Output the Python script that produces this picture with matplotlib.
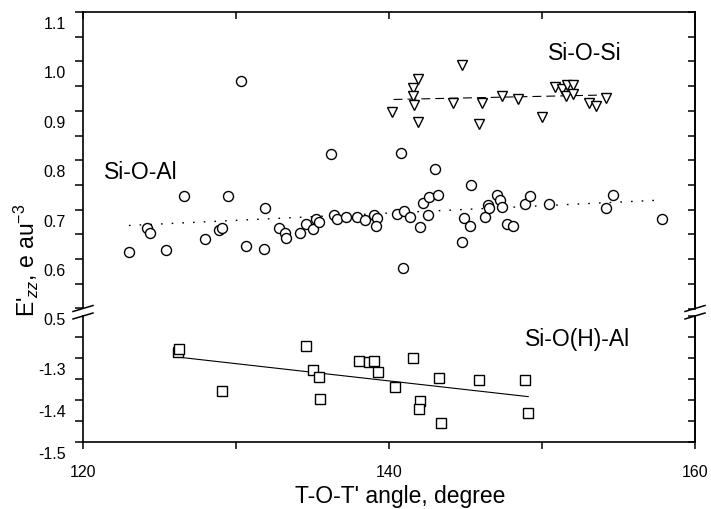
import matplotlib
matplotlib.use("Agg")
import matplotlib.pyplot as plt
from matplotlib.transforms import ScaledTranslation
from matplotlib.lines import Line2D

plt.rcParams['font.family'] = ['Liberation Sans', 'DejaVu Sans']
plt.rcParams['mathtext.fontset'] = 'custom'
plt.rcParams['mathtext.rm'] = 'Liberation Sans'
plt.rcParams['mathtext.it'] = 'Liberation Sans:italic'

# ---- data ----
sioal_x = [123.0, 124.16, 124.4, 125.4, 126.6, 128.0, 128.9, 129.07, 129.5, 130.3,
           130.65, 131.8, 131.9, 132.8, 133.2, 133.3, 134.2, 134.56, 135.0, 135.2,
           135.4, 136.2, 136.4, 136.6, 137.2, 137.9, 138.4, 139.0, 139.2, 139.15,
           140.5, 140.8, 140.9, 141.0, 141.4, 142.0, 142.2, 142.57, 142.6, 143.0,
           143.2, 144.8, 144.9, 145.3, 145.36, 146.3, 146.5, 146.55, 147.04, 147.25,
           147.36, 147.69, 148.1, 148.9, 149.2, 150.46, 154.2, 154.66, 157.84]
sioal_y = [0.614, 0.662, 0.652, 0.618, 0.728, 0.641, 0.658, 0.663, 0.728, 0.961,
           0.626, 0.621, 0.703, 0.663, 0.652, 0.642, 0.652, 0.671, 0.660, 0.682,
           0.675, 0.812, 0.690, 0.682, 0.685, 0.686, 0.680, 0.690, 0.684, 0.667,
           0.692, 0.815, 0.581, 0.697, 0.685, 0.664, 0.714, 0.690, 0.725, 0.783,
           0.729, 0.635, 0.684, 0.666, 0.749, 0.686, 0.710, 0.703, 0.729, 0.719,
           0.705, 0.670, 0.667, 0.712, 0.727, 0.711, 0.703, 0.730, 0.682]

siosi_x = [140.2, 141.9, 141.6, 141.6, 141.65, 141.9, 144.2, 144.75, 145.9, 146.1,
           147.4, 148.45, 150.0, 150.85, 151.3, 151.65, 152.05, 151.6, 152.0, 153.1,
           153.5, 154.2]
siosi_y = [0.897, 0.965, 0.946, 0.930, 0.912, 0.877, 0.916, 0.993, 0.874, 0.916,
           0.930, 0.923, 0.887, 0.948, 0.944, 0.953, 0.953, 0.930, 0.934, 0.916,
           0.910, 0.926]

siohal_x = [126.2, 126.3, 129.1, 134.6, 135.0, 135.4, 135.5, 138.06, 138.7, 139.0,
            139.3, 140.4, 141.55, 142.0, 141.96, 143.3, 143.4, 145.9, 148.9, 149.1]
siohal_y = [-1.286, -1.279, -1.378, -1.272, -1.328, -1.346, -1.398, -1.306, -1.309, -1.306,
            -1.333, -1.368, -1.300, -1.402, -1.421, -1.348, -1.455, -1.352, -1.352, -1.431]

fit_sioal_x = [123.0, 157.5]
fit_sioal_y = [0.668, 0.719]
fit_siosi_x = [140.3, 154.0]
fit_siosi_y = [0.923, 0.932]
fit_siohal_x = [126.0, 149.1]
fit_siohal_y = [-1.297, -1.392]

x_major = [120, 140, 160]
x_minor = [130, 150]
y_top_major = [0.5, 0.6, 0.7, 0.8, 0.9, 1.0, 1.1]
y_top_minor = [0.55, 0.65, 0.75, 0.85, 0.95, 1.05]
y_bot_major = [-1.5, -1.4, -1.3]
y_bot_minor = [-1.45, -1.35, -1.25]

# ---- figure ----
W, H = 711, 510
fig = plt.figure(figsize=(W / 100, H / 100), dpi=100)


def rect(l, t, r, b):
    return [l / W, 1 - b / H, (r - l) / W, (b - t) / H]


L, R = 83, 695
ax_t = fig.add_axes(rect(L, 13, R, 309.5))
ax_b = fig.add_axes(rect(L, 317, R, 443))

ms_kw = dict(mfc='white', mec='black', mew=1.0, ls='none')
ax_t.plot(sioal_x, sioal_y, marker='o', ms=7.2, **ms_kw, zorder=3)
ax_t.plot(siosi_x, siosi_y, marker='v', ms=7.5, **ms_kw, zorder=3)
ax_t.plot(fit_sioal_x, fit_sioal_y, color='black', lw=1.0, ls=(0, (1.2, 6.5)), zorder=2)
ax_t.plot(fit_siosi_x, fit_siosi_y, color='black', lw=0.8, ls=(0, (8, 4.5)), zorder=2)

ax_b.plot(siohal_x, siohal_y, marker='s', ms=6.5, **ms_kw, zorder=3)
ax_b.plot(fit_siohal_x, fit_siohal_y, color='black', lw=0.8, zorder=2)

ax_t.set_xlim(120, 160)
ax_b.set_xlim(120, 160)
ax_t.set_ylim(0.5, 1.1)
ax_b.set_ylim(-1.5, -1.2)

for ax in (ax_t, ax_b):
    for s in ax.spines.values():
        s.set_linewidth(1.2)
ax_t.spines['bottom'].set_visible(False)
ax_b.spines['top'].set_visible(False)

# ticks
ax_t.set_xticks(x_major)
ax_t.set_xticks(x_minor, minor=True)
ax_t.tick_params(axis='x', which='both', bottom=False, labelbottom=False,
                 top=True, direction='in', length=5, width=1.1)
ax_t.set_yticks(y_top_major)
ax_t.set_yticks(y_top_minor, minor=True)
ax_t.tick_params(axis='y', which='both', left=True, right=False, direction='out',
                 length=6, width=1.1, labelsize=11.5, pad=6.5)
ax_t.set_yticklabels([f"{v:.1f}" for v in y_top_major])

ax_b.set_xticks(x_major)
ax_b.set_xticks(x_minor, minor=True)
ax_b.tick_params(axis='x', which='both', bottom=True, top=False, direction='out',
                 length=5, width=1.1, labelsize=11.5, pad=11)
ax_b.set_yticks(y_bot_major)
ax_b.set_yticks(y_bot_minor, minor=True)
ax_b.tick_params(axis='y', which='both', left=True, right=False, direction='out',
                 length=6, width=1.1, labelsize=11.5, pad=6.5)
ax_b.set_yticklabels([f"{v:.1f}" for v in y_bot_major])

# right-side inward ticks
for ax, lo, hi in ((ax_t, 0.5, 1.1), (ax_b, -1.5, -1.2)):
    sec = ax.secondary_yaxis('right')
    vals = []
    v = lo
    while v <= hi + 1e-9:
        vals.append(round(v, 3))
        v += 0.05
    sec.set_yticks(vals)
    sec.tick_params(axis='y', direction='in', length=5, width=1.1, labelright=False)
    sec.spines['right'].set_linewidth(1.2)

# shift y tick labels down like the original
offset = ScaledTranslation(0, -0.1, fig.dpi_scale_trans)
for ax in (ax_t, ax_b):
    for t in ax.yaxis.get_major_ticks():
        t.label1.set_transform(t.label1.get_transform() + offset)

# break marks
for xp in (L, R):
    for yp in (309.5, 317):
        fig.add_artist(Line2D([(xp - 10) / W, (xp + 10) / W],
                              [1 - (yp + 3) / H, 1 - (yp - 3) / H],
                              color='black', lw=1.1))

# annotations
ax_t.text(121.4, 0.777, "Si-O-Al", fontsize=16.5, va='center', ha='left')
ax_t.text(150.4, 1.019, "Si-O-Si", fontsize=16.5, va='center', ha='left')
ax_b.text(148.9, -1.253, "Si-O(H)-Al", fontsize=16.5, va='center', ha='left')

# axis labels
fig.text(400 / W, 1 - 497 / H, "T-O-T' angle, degree", fontsize=16.5,
         ha='center', va='center')
fig.text(26 / W, 1 - 260 / H, r"E'$_{zz}$, e au$^{-3}$", fontsize=16.5,
         ha='center', va='center', rotation=90)

fig.savefig("out.png", dpi=100)
